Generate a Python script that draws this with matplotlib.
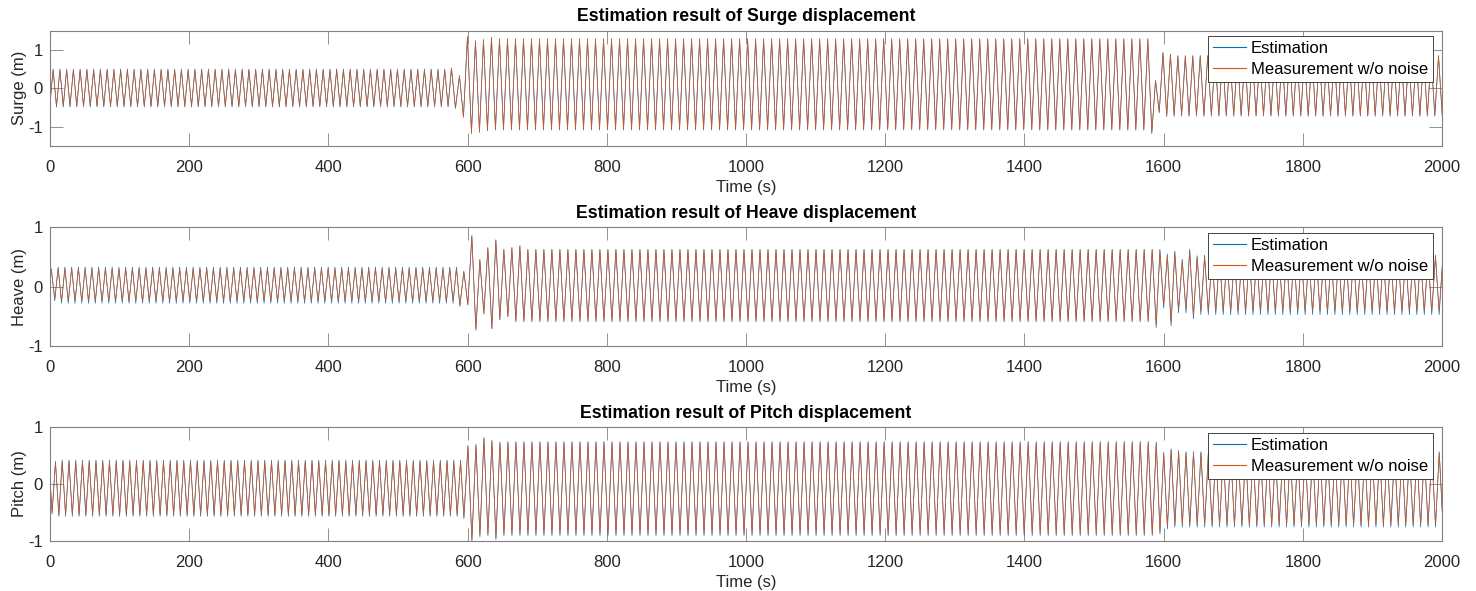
"""
Estimation vs. measurement of surge, heave and pitch displacement.
"""
import matplotlib

matplotlib.use("Agg")
import matplotlib.pyplot as plt
import numpy as np

plt.rcParams["font.family"] = ["Liberation Sans", "DejaVu Sans"]
plt.rcParams["axes.unicode_minus"] = False

# time span shown on the x axis
t_end = 2000
x_ticks = [0, 200, 400, 600, 800, 1000, 1200, 1400, 1600, 1800, 2000]

# wave segments: period (s), same for every DOF
seg_periods = [9.7, 11.5, 10.7]

# ---- surge (m) ----
surge_start_val = -0.40
surge_first_ext = (4.5, +1)
surge_seg_start = [0, 570, 1580]
surge_peaks = [0.47, 1.28, 0.84]
surge_troughs = [-0.46, -1.08, -0.71]
surge_trans = [
    [],
    [0.52, -0.52, 0.32, -0.75, 1.34, -1.17, 1.23, -1.14, 1.26, -1.10, 1.32],
    [-1.16, 0.20, -0.62, 0.92, -0.72, 0.88],
]
surge_est_peak_add = [0.03, 0.01, 0.01]
surge_est_trough_add = [-0.03, -0.01, -0.02]

# ---- heave (m) ----
heave_start_val = 0.20
heave_first_ext = (2.0, +1)
heave_seg_start = [0, 583, 1578]
heave_peaks = [0.30, 0.62, 0.50]
heave_troughs = [-0.24, -0.58, -0.41]
heave_trans = [
    [0.27, -0.20],
    [-0.32, 0.25, -0.30, 0.85, -0.72, 0.45, -0.45, 0.65, -0.70, 0.78,
     -0.55, 0.62, -0.50, 0.65, -0.58, 0.68],
    [-0.63, 0.60, -0.30, 0.52, -0.60, 0.57, -0.38, 0.43, -0.38, 0.60,
     -0.48, 0.49],
]
heave_est_peak_add = [0.03, 0.01, 0.03]
heave_est_trough_add = [-0.04, -0.01, -0.06]

# ---- pitch ----
pitch_start_val = 0.10
pitch_first_ext = (3.0, -1)
pitch_seg_start = [0, 590, 1580]
pitch_peaks = [0.40, 0.73, 0.55]
pitch_troughs = [-0.54, -0.88, -0.72]
pitch_trans = [
    [-0.50, 0.38],
    [-0.58, 0.66, -0.98, 0.68, -0.90, 0.80, -0.88, 0.75, -0.95, 0.72, -0.88],
    [0.72, -0.84, 0.54, -0.75, 0.60, -0.72, 0.57],
]
pitch_est_peak_add = [0.02, 0.02, 0.02]
pitch_est_trough_add = [-0.03, -0.03, -0.04]

blue = "#0072BD"
orange = "#D95319"


def build_extremes(start_val, first_ext, starts, peaks, troughs, trans,
                   peak_add, trough_add):
    """Walk through the segments and list every peak / trough."""
    t, sign = first_ext
    seg, k = 0, 0
    times, meas, est = [0.0], [start_val], [start_val]
    while t <= t_end + seg_periods[-1]:
        # switch segment once its start is reached (keeping the parity)
        if seg + 1 < len(starts) and t >= starts[seg + 1]:
            nxt = trans[seg + 1]
            if not nxt or np.sign(nxt[0]) == sign:
                seg, k = seg + 1, 0
        if k < len(trans[seg]):
            v = trans[seg][k]
        else:
            v = peaks[seg] if sign > 0 else troughs[seg]
        times.append(t)
        meas.append(v)
        est.append(v + (peak_add[seg] if sign > 0 else trough_add[seg]))
        t += seg_periods[seg] / 2
        sign = -sign
        k += 1
    return np.array(times), np.array(meas), np.array(est)


panels = [
    ("Surge", (-1.5, 1.5), [-1, 0, 1],
     build_extremes(surge_start_val, surge_first_ext, surge_seg_start,
                    surge_peaks, surge_troughs, surge_trans,
                    surge_est_peak_add, surge_est_trough_add)),
    ("Heave", (-1, 1), [-1, 0, 1],
     build_extremes(heave_start_val, heave_first_ext, heave_seg_start,
                    heave_peaks, heave_troughs, heave_trans,
                    heave_est_peak_add, heave_est_trough_add)),
    ("Pitch", (-1, 1), [-1, 0, 1],
     build_extremes(pitch_start_val, pitch_first_ext, pitch_seg_start,
                    pitch_peaks, pitch_troughs, pitch_trans,
                    pitch_est_peak_add, pitch_est_trough_add)),
]

W, H = 1476, 591
fig = plt.figure(figsize=(W / 100, H / 100), dpi=100)

# axes boxes in pixels (top, bottom)
boxes = [(30.7, 145.7), (227.3, 346.0), (427.3, 540.7)]

for (name, ylim, yticks, (tt, meas, est)), (top, bot) in zip(panels, boxes):
    ax = fig.add_axes([50 / W, (H - bot) / H, 1392 / W, (bot - top) / H])

    ax.plot(tt, est, color=blue, lw=0.5, label="Estimation")
    ax.plot(tt, meas, color=orange, lw=0.5, label="Measurement w/o noise")

    ax.set_xlim(0, t_end)
    ax.set_ylim(*ylim)
    ax.set_xticks(x_ticks)
    ax.set_yticks(yticks)
    ax.tick_params(direction="in", length=9.4, width=0.6, colors="#808080",
                   labelcolor="#262626", labelsize=12, top=True, right=True)
    ax.tick_params(axis="x", pad=10)
    ax.tick_params(axis="y", pad=5)
    for sp in ax.spines.values():
        sp.set_color("#808080")
        sp.set_linewidth(0.8)

    ax.set_xlabel("Time (s)", fontsize=12, color="#262626", labelpad=4)
    ax.set_ylabel(f"{name} (m)", fontsize=12, color="#262626", labelpad=1)
    ax.set_title(f"Estimation result of {name} displacement", fontsize=12.7,
                 fontweight="bold", pad=7)

    h = bot - top
    leg = ax.legend(loc="upper right", bbox_to_anchor=(1 - 9.3 / 1392, 1 - 5.5 / h),
                    borderaxespad=0, fontsize=12, frameon=True, fancybox=False,
                    framealpha=1, edgecolor="#262626", handlelength=2.0,
                    handletextpad=0.25, labelspacing=0.35, borderpad=0.3)
    leg.get_frame().set_linewidth(0.6)
    for line in leg.get_lines():
        line.set_linewidth(0.8)

fig.savefig("out.png", dpi=100)
